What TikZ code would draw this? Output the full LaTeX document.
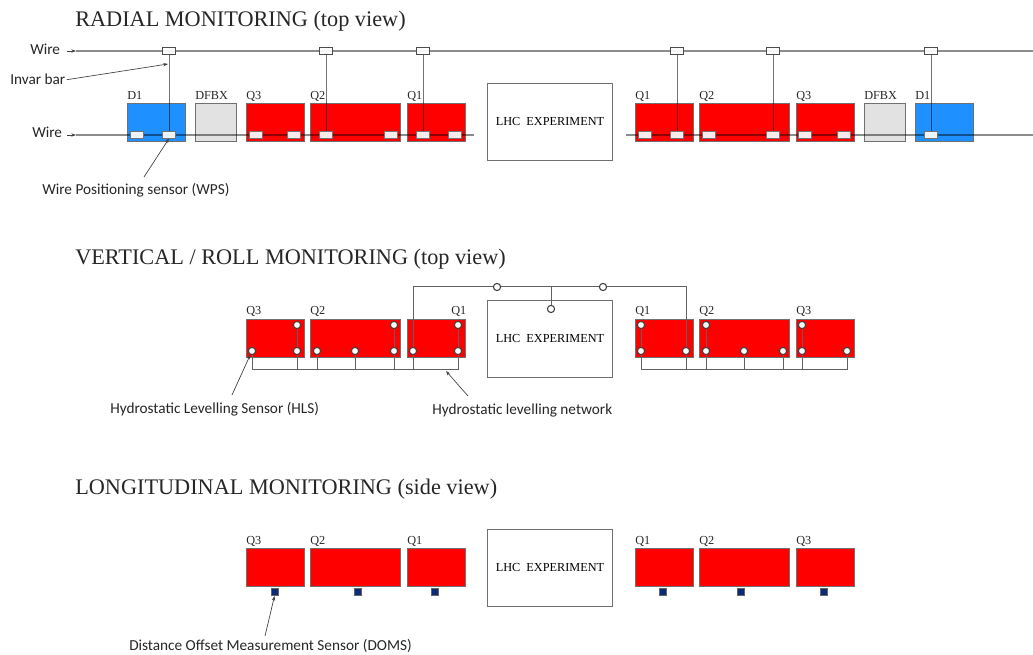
\documentclass[tikz,border=0pt]{standalone}
\usepackage{fontspec}
\setmainfont{Liberation Serif}
\newfontfamily\lab{Carlito}
\usetikzlibrary{arrows.meta}
\definecolor{magred}{HTML}{FF0000}
\definecolor{magblue}{HTML}{1E90FF}
\definecolor{maggray}{HTML}{E2E2E2}
\definecolor{edgegray}{HTML}{707070}
\definecolor{domsblue}{HTML}{0B2A78}
\tikzset{
  x=0.75pt,y=-0.75pt,
  mag/.style={draw=edgegray,line width=0.75pt,anchor=north west,inner sep=0pt,minimum height=28.5pt},
  short/.style={mag,fill=magred,minimum width=43.2pt},
  long/.style={mag,fill=magred,minimum width=67.2pt},
  dipole/.style={mag,fill=magblue,minimum width=43.2pt},
  dfbx/.style={mag,fill=maggray,minimum width=30.5pt},
  lhc/.style={draw=edgegray,line width=0.75pt,anchor=north west,inner sep=0pt,minimum width=93.75pt,minimum height=57.75pt,font=\fontsize{9.2}{11}\selectfont},
  magname/.style={anchor=base west,inner sep=0pt,font=\fontsize{9.2}{10}\selectfont,text=black!85},
  title/.style={anchor=base west,inner sep=0pt,font=\fontsize{16.7}{18}\selectfont,text=black!85},
  note/.style={anchor=base west,inner sep=0pt,font=\lab\fontsize{11.45}{13}\selectfont,text=black!85},
  wire/.style={draw=black,draw opacity=0.45,line width=0.85pt},
  bar/.style={draw=black,draw opacity=0.55,line width=0.7pt},
  net/.style={draw=black!62,line width=0.75pt},
  pointer/.style={draw=black!75,line width=0.5pt,-{Stealth[length=3.5pt,width=2.5pt]}},
  clamp/.style={draw=black!70,fill=white,fill opacity=0.9,line width=0.5pt,inner sep=0pt,minimum width=9.5pt,minimum height=4.8pt},
  wps/.style={draw=black!55,fill=white,fill opacity=0.92,line width=0.5pt,inner sep=0pt,minimum width=9.5pt,minimum height=4.8pt},
  hls/.style={circle,draw=black!75,fill=white,line width=0.8pt,inner sep=0pt,minimum size=5.4pt},
  doms/.style={draw=black!60,fill=domsblue,line width=0.5pt,inner sep=0pt,minimum size=5.5pt,anchor=north},
}
\begin{document}
\begin{tikzpicture}
\useasboundingbox (0,0) rectangle (1033,655);
% ---------- RADIAL
\node[title] (t1) at (75,27) {RADIAL MONITORING (top view)};
\node[dipole] (ad1) at (127,103) {};
\node[dfbx] (adf) at (195,103) {};
\node[short] (aq3) at (246,103) {};
\node[long] (aq2) at (310,103) {};
\node[short] (aq1) at (407,103) {};
\node[lhc] (alhc) at (487,83) {LHC\ \ EXPERIMENT};
\node[short] (bq1) at (635,103) {};
\node[long] (bq2) at (699,103) {};
\node[short] (bq3) at (796,103) {};
\node[dfbx] (bdf) at (864,103) {};
\node[dipole] (bd1) at (915,103) {};
\node[magname] (nad1) at (127,100) {D1};
\node[magname] (nadf) at (195,100) {DFBX};
\node[magname] (naq3) at (246,100) {Q3};
\node[magname] (naq2) at (310,100) {Q2};
\node[magname] (naq1) at (407,100) {Q1};
\node[magname] (nbq1) at (635,100) {Q1};
\node[magname] (nbq2) at (699,100) {Q2};
\node[magname] (nbq3) at (796,100) {Q3};
\node[magname] (nbdf) at (864,100) {DFBX};
\node[magname] (nbd1) at (915,100) {D1};
\node[note] (w1) at (30,55) {Wire};
\node[note] (w2) at (32,138) {Wire};
\coordinate (w1a) at (76,51);
\coordinate (w1b) at (1033,51);
\coordinate (w2a) at (76,135);
\coordinate (w2b) at (474,135);
\coordinate (w3a) at (626,135);
\coordinate (w3b) at (1033,135);
\coordinate (w1t) at (67,51);
\coordinate (w2t) at (67,135);
\draw[wire] (w1a) -- (w1b);
\draw[wire] (w2a) -- (w2b);
\draw[wire] (w3a) -- (w3b);
\draw[pointer] (w1t) -- (w1a);
\draw[pointer] (w2t) -- (w2a);
\node[wps] (s1) at (137,135) {};
\node[wps] (s2) at (169,135) {};
\node[wps] (s3) at (256,135) {};
\node[wps] (s4) at (294,135) {};
\node[wps] (s5) at (326,135) {};
\node[wps] (s6) at (391,135) {};
\node[wps] (s7) at (423,135) {};
\node[wps] (s8) at (455,135) {};
\node[wps] (s9) at (645,135) {};
\node[wps] (s10) at (677,135) {};
\node[wps] (s11) at (709,135) {};
\node[wps] (s12) at (773,135) {};
\node[wps] (s13) at (805,135) {};
\node[wps] (s14) at (844,135) {};
\node[wps] (s15) at (931,135) {};
\node[clamp] (c1) at (169,51) {};
\node[clamp] (c2) at (326,51) {};
\node[clamp] (c3) at (423,51) {};
\node[clamp] (c4) at (677,51) {};
\node[clamp] (c5) at (773,51) {};
\node[clamp] (c6) at (931,51) {};
\draw[bar] (c1) -- (s2);
\draw[bar] (c2) -- (s5);
\draw[bar] (c3) -- (s7);
\draw[bar] (c4) -- (s10);
\draw[bar] (c5) -- (s12);
\draw[bar] (c6) -- (s15);
\node[note] (inv) at (10,85) {Invar bar};
\coordinate (invt) at (168,64);
\draw[pointer] (inv.east) ++(1,0) -- (invt);
\node[note] (wpsl) at (42,195) {Wire Positioning sensor (WPS)};
\coordinate (wpss) at (144,177);
\draw[pointer] (wpss) -- (s2.south);
% ---------- VERTICAL
\node[title] (t2) at (75,265) {VERTICAL / ROLL MONITORING (top view)};
\node[short] (cq3) at (246,319) {};
\node[long] (cq2) at (310,319) {};
\node[short] (cq1) at (407,319) {};
\node[lhc] (clhc) at (487,300) {LHC\ \ EXPERIMENT};
\node[short] (dq1) at (635,319) {};
\node[long] (dq2) at (699,319) {};
\node[short] (dq3) at (796,319) {};
\node[magname] (ncq3) at (246,315) {Q3};
\node[magname] (ncq2) at (310,315) {Q2};
\node[magname] (ncq1) at (451,315) {Q1};
\node[magname] (ndq1) at (635,315) {Q1};
\node[magname] (ndq2) at (699,315) {Q2};
\node[magname] (ndq3) at (796,315) {Q3};
\coordinate (n1) at (252,370);
\coordinate (n2) at (458,370);
\coordinate (n3) at (641,370);
\coordinate (n4) at (847,370);
\coordinate (top1) at (413,287);
\coordinate (top2) at (686,287);
\coordinate (top3) at (551,287);
\node[hls] (h1) at (252,351) {};
\node[hls] (h2) at (297,351) {};
\node[hls] (h3) at (297,325) {};
\node[hls] (h4) at (317,351) {};
\node[hls] (h5) at (355,351) {};
\node[hls] (h6) at (394,351) {};
\node[hls] (h7) at (394,325) {};
\node[hls] (h8) at (413,351) {};
\node[hls] (h9) at (458,351) {};
\node[hls] (h10) at (458,325) {};
\node[hls] (h11) at (641,351) {};
\node[hls] (h12) at (641,325) {};
\node[hls] (h13) at (686,351) {};
\node[hls] (h14) at (706,351) {};
\node[hls] (h15) at (706,325) {};
\node[hls] (h16) at (744,351) {};
\node[hls] (h17) at (783,351) {};
\node[hls] (h18) at (802,351) {};
\node[hls] (h19) at (802,325) {};
\node[hls] (h20) at (847,351) {};
\node[hls] (h21) at (497,287) {};
\node[hls] (h22) at (603,287) {};
\node[hls] (h23) at (551,309) {};
\draw[net] (h1) -- (n1) -- (n2) -- (h9);
\draw[net] (h11) -- (n3) -- (n4) -- (h20);
\draw[net] (h2) -- (h3);
\draw[net] (h6) -- (h7);
\draw[net] (h9) -- (h10);
\draw[net] (h11) -- (h12);
\draw[net] (h14) -- (h15);
\draw[net] (h18) -- (h19);
\draw[net] (h2) -- (h2 |- n1);
\draw[net] (h4) -- (h4 |- n1);
\draw[net] (h5) -- (h5 |- n1);
\draw[net] (h6) -- (h6 |- n1);
\draw[net] (h8) -- (h8 |- n1);
\draw[net] (h14) -- (h14 |- n3);
\draw[net] (h16) -- (h16 |- n3);
\draw[net] (h17) -- (h17 |- n3);
\draw[net] (h18) -- (h18 |- n3);
\draw[net] (h8) -- (top1) -- (h21);
\draw[net] (h21) -- (h22);
\draw[net] (h22) -- (top2) -- (h13);
\draw[net] (h13) -- (h13 |- n3);
\draw[net] (top3) -- (h23);
\node[note] (hlsl) at (110,414) {Hydrostatic Levelling Sensor (HLS)};
\coordinate (hlss) at (232,395);
\draw[pointer] (hlss) -- (h1);
\node[note] (netl) at (432,415) {Hydrostatic levelling network};
\coordinate (nets) at (468,396);
\coordinate (nett) at (446,371);
\draw[pointer] (nets) -- (nett);
% ---------- LONGITUDINAL
\node[title] (t3) at (75,495) {LONGITUDINAL MONITORING (side view)};
\node[short] (eq3) at (246,548) {};
\node[long] (eq2) at (310,548) {};
\node[short] (eq1) at (407,548) {};
\node[lhc] (elhc) at (487,529) {LHC\ \ EXPERIMENT};
\node[short] (fq1) at (635,548) {};
\node[long] (fq2) at (699,548) {};
\node[short] (fq3) at (796,548) {};
\node[magname] (neq3) at (246,545) {Q3};
\node[magname] (neq2) at (310,545) {Q2};
\node[magname] (neq1) at (407,545) {Q1};
\node[magname] (nfq1) at (635,545) {Q1};
\node[magname] (nfq2) at (699,545) {Q2};
\node[magname] (nfq3) at (796,545) {Q3};
\node[doms] (d1) at (274.5,588) {};
\node[doms] (d2) at (358,588) {};
\node[doms] (d3) at (435,588) {};
\node[doms] (d4) at (663,588) {};
\node[doms] (d5) at (741,588) {};
\node[doms] (d6) at (824,588) {};
\node[note] (domsl) at (129,651) {Distance Offset Measurement Sensor (DOMS)};
\coordinate (domss) at (265,636);
\draw[pointer] (domss) -- (d1.south);
\end{tikzpicture}
\end{document}
